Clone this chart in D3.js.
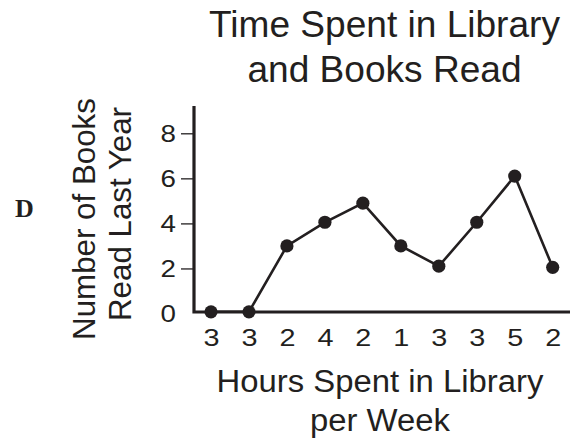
<!DOCTYPE html>
<html><head><meta charset="utf-8">
<script src="https://cdn.jsdelivr.net/npm/d3@7"></script>
<style>body{margin:0;background:#fff}svg{display:block}text{font-family:"Liberation Sans",Arial,Helvetica,sans-serif;fill:#231f20}</style>
</head><body>
<svg id="c" width="577" height="440"></svg>
<script>
const categories = ["3","3","2","4","2","1","3","3","5","2"];
const booksRead = [0,0,3,4.05,4.9,3,2.1,4.05,6.1,2.05];
const yTicks = [0,2,4,6,8];
const titleLines = ["Time Spent in Library","and Books Read"];
const xTitleLines = ["Hours Spent in Library","per Week"];
const yTitleLines = ["Number of Books","Read Last Year"];
const ink = "#231f20";

const svg = d3.select("#c");
const x = d3.scalePoint().domain(d3.range(categories.length)).range([211,552.7]);
const y = d3.scaleLinear().domain([0,8]).range([313.5,133.3]);

// title
svg.append("g").selectAll("text").data(titleLines).join("text")
  .attr("x",384.5).attr("y",(d,i)=>37+i*45).attr("text-anchor","middle")
  .attr("font-size",36).attr("transform","translate(384.5,0) scale(1.03,1) translate(-384.5,0)").text(d=>d);

// D label
svg.append("text").attr("x",24.5).attr("y",217).attr("text-anchor","middle")
  .style("font-family","'Liberation Serif','Times New Roman',serif").attr("font-weight","bold")
  .attr("font-size",26).text("D");

// y axis title
const yTitleCenters = [219,214];
svg.append("g").selectAll("text").data(yTitleLines).join("text")
  .attr("transform",(d,i)=>`translate(${95+i*35.5},${yTitleCenters[i]}) rotate(-90)`)
  .attr("text-anchor","middle").attr("font-size",31.3).text(d=>d);

// x axis title
svg.append("g").selectAll("text").data(xTitleLines).join("text")
  .attr("x",380).attr("y",(d,i)=>392+i*39).attr("text-anchor","middle")
  .attr("font-size",31).attr("transform","translate(380,0) scale(1.06,1) translate(-380,0)").text(d=>d);

// y ticks
const yAxis = d3.axisLeft(y).tickValues(yTicks).tickSize(13).tickPadding(5);
const gy = svg.append("g").attr("transform","translate(194,0)").call(yAxis);
gy.select(".domain").remove();
gy.selectAll(".tick line").attr("stroke",ink).attr("stroke-width",1.3);
gy.selectAll(".tick").filter(d=>d===0).select("line").remove();
gy.selectAll(".tick text").attr("font-size",23.5).attr("fill",ink).style("font-family","'Liberation Sans',Arial,sans-serif")
  .attr("dy","0.36em").attr("x",0).attr("transform","translate(-18,0) scale(1.18,1)");

// x tick labels
const xAxis = d3.axisBottom(x).tickFormat(i=>categories[i]).tickSize(0).tickPadding(17);
const gx = svg.append("g").attr("transform","translate(0,312)").call(xAxis);
gx.select(".domain").remove();
gx.selectAll(".tick text").attr("font-size",24).attr("fill",ink).style("font-family","'Liberation Sans',Arial,sans-serif")
  .attr("transform","scale(1.2,1)");

// axis lines
svg.append("path").attr("d",`M194,106V${312}H570`).attr("fill","none").attr("stroke",ink).attr("stroke-width",3.2);

// line
const line = d3.line().x((d,i)=>x(i)).y(d=>Math.min(y(d),311.8));
svg.append("path").datum(booksRead).attr("d",line).attr("fill","none").attr("stroke",ink).attr("stroke-width",2.6).attr("stroke-linejoin","miter");

// points
svg.append("g").selectAll("circle").data(booksRead).join("circle")
  .attr("cx",(d,i)=>x(i)).attr("cy",d=>Math.min(y(d),311.8)).attr("r",6.6).attr("fill",ink);
</script>
</body></html>
